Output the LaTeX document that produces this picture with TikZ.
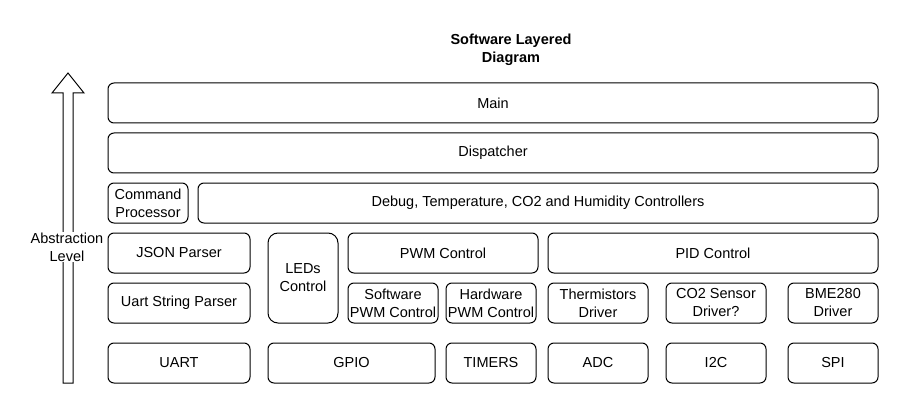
\documentclass[tikz,border=0pt]{standalone}
\usepackage{fontspec}
\setmainfont{Liberation Sans}
\usepackage{tikz}
\usetikzlibrary{positioning}

\begin{document}
\begin{tikzpicture}[x=1pt,y=-1pt,
    layer/.style={draw,rounded corners=6pt,line width=1pt,inner sep=0pt,align=center,
        font=\fontsize{14.5}{18}\selectfont,minimum height=40pt},
    ]
            \useasboundingbox (0,0) rectangle (909,414);
            % title
            \node[align=center,font=\fontsize{14.5}{18}\selectfont\bfseries] (title) at (511,50) {Software Layered\\Diagram};
            % abstraction arrow
            \draw[line width=1pt] (63,383) -- (63,93) -- (52,93) -- (68,73) -- (84,93) -- (73,93) -- (73,383) -- cycle;
            \node[fill=white,align=center,inner sep=1pt,font=\fontsize{14.5}{18}\selectfont] (abst) at (67,247) {Abstraction\\Level};
            % upper layers
            \node[layer,minimum width=770pt] (main) at (493,103) {Main};
            \node[layer,minimum width=770pt] (disp) at (493,153) {Dispatcher};
            \node[layer,minimum width=80pt] (cmd) at (148,203) {Command\\Processor};
            \node[layer,minimum width=680pt] (ctrl) at (538,203) {Debug, Temperature, CO2 and Humidity Controllers};
            % services
            \node[layer,minimum width=142pt] (json) at (179,253) {JSON Parser};
            \node[layer,minimum width=70pt,minimum height=90pt,rounded corners=10pt] (leds) at (303,278) {LEDs\\Control};
            \node[layer,minimum width=190pt] (pwm) at (443,253) {PWM Control};
            \node[layer,minimum width=330pt] (pid) at (713,253) {PID Control};
            % drivers
            \node[layer,minimum width=142pt] (uartp) at (179,303) {Uart String Parser};
            \node[layer,minimum width=90pt] (swpwm) at (393,303) {Software\\PWM Control};
            \node[layer,minimum width=90pt] (hwpwm) at (491,303) {Hardware\\PWM Control};
            \node[layer,minimum width=100pt] (therm) at (598,303) {Thermistors\\Driver};
            \node[layer,minimum width=100pt] (co2) at (716,303) {CO2 Sensor\\Driver?};
            \node[layer,minimum width=90pt] (bme) at (833,303) {BME280\\Driver};
            % peripherals
            \node[layer,minimum width=142pt] (uart) at (179,363) {UART};
            \node[layer,minimum width=167pt] (gpio) at (351.5,363) {GPIO};
            \node[layer,minimum width=90pt] (timers) at (491,363) {TIMERS};
            \node[layer,minimum width=100pt] (adc) at (598,363) {ADC};
            \node[layer,minimum width=100pt] (i2c) at (716,363) {I2C};
            \node[layer,minimum width=90pt] (spi) at (833,363) {SPI};
        \end{tikzpicture}
\end{document}
